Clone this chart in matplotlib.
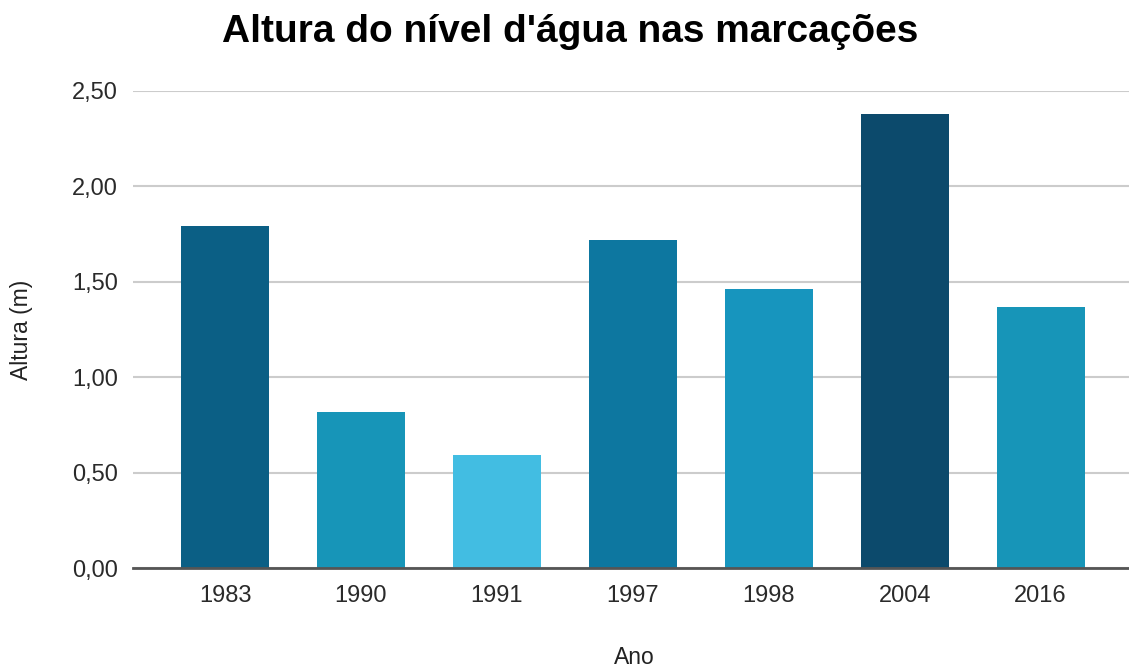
import numpy as np
from matplotlib import pyplot as plt

anos = ['1983', '1990', '1991', '1997', '1998', '2004', '2016']
alturas = [1.79, 0.82, 0.59, 1.72, 1.46, 2.38, 1.37]
cores = ['#0B5F85', '#1795B8', '#42BDE2', '#0D77A0', '#1795BE', '#0C4A6C', '#1795B8']
y_ticks = [0.0, 0.5, 1.0, 1.5, 2.0, 2.5]

plt.rcParams['font.family'] = ['Liberation Sans', 'DejaVu Sans']

fig = plt.figure(figsize=(11.29, 6.68), dpi=100)
ax = fig.add_axes([133 / 1129, 100 / 668, 1 - 133 / 1129, 477 / 668])

x = np.arange(len(anos))
ax.bar(x, alturas, width=0.647, color=cores, zorder=3)

ax.set_xlim(-0.677, 6.65)
ax.set_ylim(0, 2.5)
ax.set_yticks(y_ticks, [f'{v:.2f}'.replace('.', ',') for v in y_ticks])
ax.set_xticks(x, anos)
ax.tick_params(axis='both', length=0, labelsize=17, colors='#2a2a2a')
ax.tick_params(axis='y', pad=11)
ax.tick_params(axis='x', pad=12)

ax.grid(axis='y', color='#cccccc', linewidth=1.5, zorder=0)
for s in ['top', 'right', 'left']:
    ax.spines[s].set_visible(False)
ax.spines['bottom'].set_color('#555555')
ax.spines['bottom'].set_linewidth(2)
ax.spines['bottom'].set_zorder(4)

ax.set_xlabel('Ano', fontsize=16.5, color='#222222', va='center')
ax.xaxis.set_label_coords((634 - 133) / (1129 - 133), (568 - 657) / 477)
ax.set_ylabel('Altura (m)', fontsize=16.5, color='#222222', labelpad=28)
fig.text(570 / 1129, 1 - 32 / 668, "Altura do nível d'água nas marcações",
         fontsize=28, fontweight='bold', ha='center', va='center', color='#000000')

fig.savefig('out.png', dpi=100)
